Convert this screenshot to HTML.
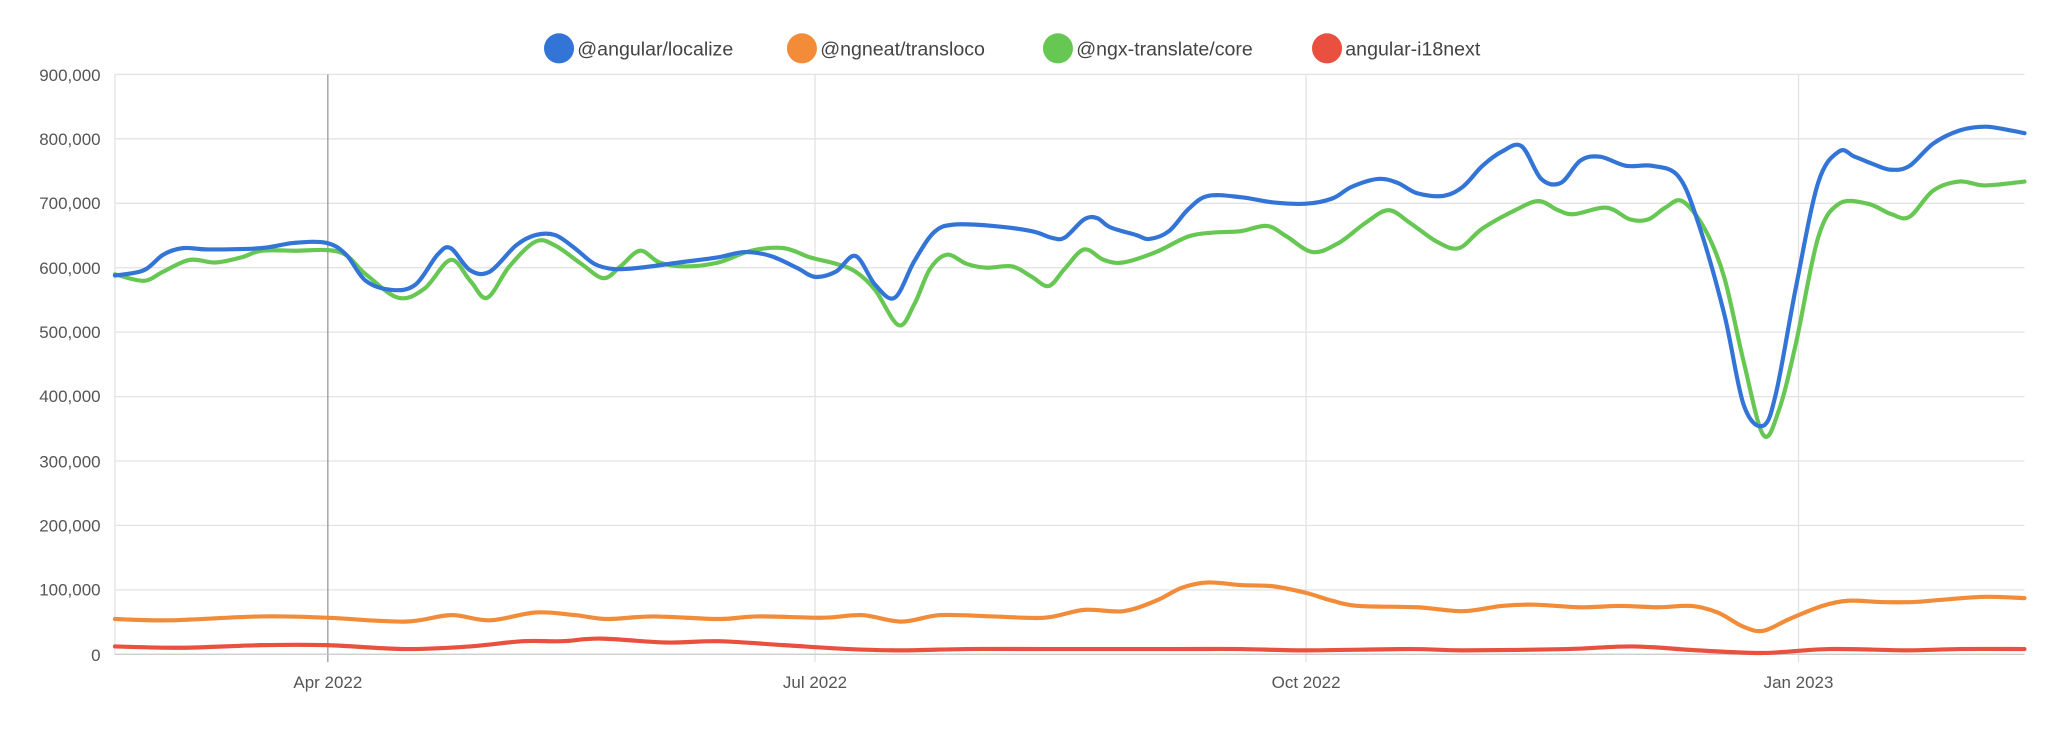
<!DOCTYPE html>
<html><head><meta charset="utf-8"><style>
html,body{margin:0;padding:0;background:#fff;}
svg{display:block;font-family:"Liberation Sans",sans-serif;}
</style></head><body>
<svg id="c" width="2048" height="747" viewBox="0 0 1568 572" preserveAspectRatio="none">
<g stroke="#e3e3e3" stroke-width="1">
<line x1="88" x2="1550" y1="57" y2="57"/><line x1="88" x2="1550" y1="106.3" y2="106.3"/>
<line x1="88" x2="1550" y1="155.7" y2="155.7"/><line x1="88" x2="1550" y1="205" y2="205"/>
<line x1="88" x2="1550" y1="254.3" y2="254.3"/><line x1="88" x2="1550" y1="303.7" y2="303.7"/>
<line x1="88" x2="1550" y1="353" y2="353"/><line x1="88" x2="1550" y1="402.3" y2="402.3"/>
<line x1="88" x2="1550" y1="451.7" y2="451.7"/>
<line x1="624" x2="624" y1="57" y2="507"/><line x1="1000" x2="1000" y1="57" y2="507"/><line x1="1377" x2="1377" y1="57" y2="507"/>
<line x1="88" x2="88" y1="57" y2="501"/>
</g>
<line x1="251" x2="251" y1="57" y2="507" stroke="#999" stroke-width="1"/>
<line x1="88" x2="1550" y1="501" y2="501" stroke="#c8c8c8" stroke-width="1"/>
<g fill="#555" font-size="13" text-anchor="end">
<text x="77" y="62">900,000</text><text x="77" y="111">800,000</text><text x="77" y="160">700,000</text>
<text x="77" y="210">600,000</text><text x="77" y="259">500,000</text><text x="77" y="308">400,000</text>
<text x="77" y="358">300,000</text><text x="77" y="407">200,000</text><text x="77" y="456">100,000</text>
<text x="77" y="506">0</text>
</g>
<g fill="#555" font-size="13" text-anchor="middle">
<text x="251" y="527">Apr 2022</text><text x="624" y="527">Jul 2022</text>
<text x="1000" y="527">Oct 2022</text><text x="1377" y="527">Jan 2023</text>
</g>
<g font-size="15" fill="#444">
<circle cx="428" cy="37" r="11.5" fill="#3374d7"/><text x="442" y="42.5">@angular/localize</text>
<circle cx="614" cy="37" r="11.5" fill="#f28c38"/><text x="628" y="42.5">@ngneat/transloco</text>
<circle cx="810" cy="37" r="11.5" fill="#66c752"/><text x="824" y="42.5">@ngx-translate/core</text>
<circle cx="1016" cy="37" r="11.5" fill="#e9503f"/><text x="1030" y="42.5">angular-i18next</text>
</g>
<g fill="none" stroke-width="3.2" stroke-linejoin="round" stroke-linecap="round">
<path id="pr" stroke="#e9503f"/>
<path id="po" stroke="#f28c38"/>
<path id="pg" stroke="#66c752"/>
<path id="pb" stroke="#3374d7"/>
</g>
</svg>
<script>
function sp(p){var d="M"+p[0][0]+","+p[0][1];for(var i=0;i<p.length-1;i++){var a=p[i-1]||p[i],b=p[i],c=p[i+1],e=p[i+2]||c;var t=6;d+=" C"+(b[0]+(c[0]-a[0])/t)+","+(b[1]+(c[1]-a[1])/t)+" "+(c[0]-(e[0]-b[0])/t)+","+(c[1]-(e[1]-b[1])/t)+" "+c[0]+","+c[1];}return d;}
var B=[[88,211],[110,207],[125,195],[140,190],[160,191],[200,190],[225,186],[250,186],[265,195],[280,215],[300,222],[318,218],[335,195],[345,190],[360,207],[375,208],[395,188],[410,180],[425,180],[440,190],[455,202],[470,206],[490,205],[520,201],[550,197],[570,193],[590,196],[610,205],[624,212],[640,208],[655,196],[670,218],[685,228],[700,200],[715,178],[730,172],[760,173],[790,177],[805,182],[815,182],[830,168],[840,167],[850,174],[870,180],[880,183],[895,177],[910,160],[925,150],[950,151],[975,155],[1000,156],[1020,152],[1035,143],[1055,137],[1070,140],[1085,148],[1105,150],[1120,143],[1135,127],[1150,116],[1165,112],[1180,137],[1195,140],[1210,123],[1225,120],[1245,127],[1265,127],[1285,135],[1300,170],[1320,240],[1335,310],[1350,326],[1360,300],[1375,220],[1392,140],[1408,116],[1420,120],[1435,126],[1448,130],[1462,127],[1480,110],[1500,100],[1520,97],[1540,100],[1550,102]];
var G=[[88,210],[110,215],[125,208],[145,199],[165,201],[185,197],[200,192],[225,192],[260,193],[280,210],[305,228],[325,221],[345,199],[360,215],[373,228],[390,204],[410,185],[425,188],[445,202],[462,213],[475,204],[490,192],[505,201],[525,204],[550,201],[575,192],[600,190],[620,197],[640,202],[655,208],[670,222],[688,249],[700,233],[712,206],[725,195],[740,202],[755,205],[775,204],[790,212],[803,219],[815,206],[830,191],[845,199],[860,201],[885,193],[910,181],[930,178],[950,177],[970,173],[985,181],[1005,193],[1025,186],[1045,171],[1063,161],[1080,171],[1100,185],[1117,190],[1135,175],[1160,161],[1178,154],[1193,161],[1205,164],[1230,159],[1248,168],[1262,168],[1275,159],[1288,154],[1305,175],[1320,212],[1335,277],[1350,333],[1362,314],[1375,263],[1392,182],[1408,156],[1430,156],[1448,164],[1462,166],[1480,146],[1500,139],[1520,142],[1550,139]];
var O=[[88,474],[130,475],[200,472],[250,473],[310,476],[345,471],[375,475],[410,469],[440,471],[465,474],[500,472],[550,474],[580,472],[630,473],[660,471],[690,476],[720,471],[760,472],[800,473],[830,467],[860,468],[885,460],[905,450],[925,446],[950,448],[975,449],[1000,454],[1020,460],[1040,464],[1085,465],[1120,468],[1150,464],[1175,463],[1210,465],[1240,464],[1270,465],[1295,464],[1315,469],[1335,480],[1350,483],[1370,474],[1395,464],[1415,460],[1440,461],[1465,461],[1490,459],[1520,457],[1550,458]];
var R=[[88,495],[140,496],[200,494],[250,494],[310,497],[360,495],[400,491],[430,491],[460,489],[510,492],[550,491],[600,494],[650,497],[690,498],[740,497],[800,497],[900,497],[950,497],[1000,498],[1080,497],[1120,498],[1200,497],[1250,495],[1300,498],[1350,500],[1400,497],[1460,498],[1500,497],[1550,497]];
document.getElementById("pb").setAttribute("d",sp(B));
document.getElementById("pg").setAttribute("d",sp(G));
document.getElementById("po").setAttribute("d",sp(O));
document.getElementById("pr").setAttribute("d",sp(R));
</script>
</body></html>
